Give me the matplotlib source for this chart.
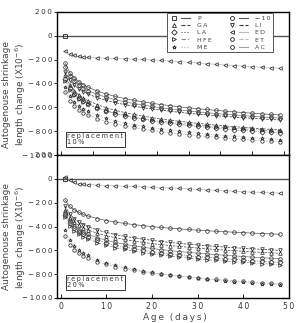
import matplotlib
matplotlib.use('Agg')
import matplotlib.pyplot as plt
from matplotlib.lines import Line2D
from matplotlib.legend_handler import HandlerTuple

plt.rcParams['font.family'] = ['DejaVu Sans']

# measuring days
days = [1, 2, 3, 4, 5, 6, 8, 10, 12, 14, 16, 18, 20, 22, 24, 26, 28, 30,
        32, 34, 36, 38, 40, 42, 44, 46, 48]

# plain concrete (reference line)
p_day = [1]
p_val = [0]

# 10% replacement
t_ed = [-130, -150, -165, -172, -177, -180, -184, -187, -190, -192, -195, -198, -202, -206,
        -211, -216, -221, -227, -233, -239, -244, -249, -254, -259, -263, -268, -272]
t_10 = [-230, -308, -353, -385, -411, -431, -463, -488, -509, -526, -541, -554, -566, -577,
        -586, -595, -604, -612, -618, -625, -632, -638, -644, -649, -655, -659, -664]
t_ac = [-260, -337, -382, -414, -439, -459, -491, -516, -536, -553, -568, -581, -593, -604,
        -613, -622, -630, -638, -645, -652, -658, -664, -670, -675, -681, -685, -690]
t_li = [-300, -373, -415, -445, -469, -488, -518, -542, -561, -577, -591, -603, -614, -624,
        -633, -642, -650, -657, -663, -670, -676, -682, -687, -692, -697, -702, -706]
t_ga = [-330, -412, -461, -495, -521, -543, -577, -604, -625, -644, -659, -674, -686, -698,
        -708, -717, -726, -734, -742, -749, -756, -762, -768, -774, -780, -785, -790]
t_la = [-360, -441, -489, -523, -549, -571, -604, -631, -652, -670, -686, -700, -712, -724,
        -734, -743, -752, -760, -767, -775, -781, -788, -794, -800, -805, -810, -815]
t_hfe = [-380, -455, -499, -530, -555, -575, -606, -630, -650, -666, -681, -694, -705, -716,
         -725, -734, -742, -749, -756, -763, -769, -775, -780, -786, -791, -795, -800]
t_me = [-430, -509, -555, -588, -613, -634, -666, -692, -713, -730, -745, -759, -771, -782,
        -791, -801, -809, -817, -824, -831, -837, -844, -849, -855, -860, -865, -870]
t_et = [-470, -545, -589, -620, -644, -664, -695, -719, -738, -755, -769, -782, -794, -804,
        -813, -822, -830, -837, -844, -851, -857, -863, -868, -874, -879, -883, -888]

# 20% replacement
b_ed = [15, -10, -30, -40, -45, -48, -52, -56, -59, -62, -64, -67, -70, -73,
        -77, -80, -84, -88, -92, -96, -100, -104, -108, -111, -114, -117, -120]
b_10 = [-180, -231, -261, -282, -299, -312, -333, -350, -363, -374, -384, -393, -401, -408,
        -414, -420, -425, -431, -435, -440, -444, -448, -452, -455, -459, -462, -465]
b_li = [-230, -296, -335, -363, -384, -401, -429, -450, -468, -482, -495, -506, -516, -526,
        -534, -542, -549, -555, -561, -567, -573, -578, -583, -587, -592, -596, -600]
b_ga = [-260, -325, -364, -391, -412, -429, -456, -477, -494, -509, -521, -533, -543, -552,
        -560, -567, -574, -581, -587, -593, -598, -603, -608, -613, -617, -621, -625]
b_ac = [-290, -358, -398, -426, -448, -466, -494, -516, -534, -549, -562, -574, -584, -594,
        -602, -610, -617, -624, -630, -636, -642, -647, -652, -657, -662, -666, -670]
b_la = [-300, -372, -414, -443, -466, -485, -515, -538, -557, -573, -586, -599, -610, -620,
        -628, -637, -644, -652, -658, -664, -670, -676, -681, -686, -691, -696, -700]
b_hfe = [-320, -392, -434, -463, -486, -505, -535, -558, -577, -593, -606, -619, -630, -640,
         -648, -657, -664, -672, -678, -684, -690, -696, -701, -706, -711, -716, -720]
b_me = [-430, -512, -561, -595, -621, -643, -677, -704, -725, -744, -759, -774, -786, -798,
        -808, -817, -826, -834, -842, -849, -856, -862, -868, -874, -880, -885, -890]
b_et = [-480, -552, -594, -623, -646, -665, -695, -718, -737, -753, -766, -779, -790, -800,
        -808, -817, -824, -832, -838, -844, -850, -856, -861, -866, -871, -876, -880]

labels = ['P', 'GA', 'LA', 'HFE', 'ME', '−10', 'LI', 'ED', 'ET', 'AC']
yticks = [-1000, -800, -600, -400, -200, 0, 200]
ytick_labels = ['−1000', '−800', '−600', '−400', '−200', '0', '200']
xticks_top = [0, 7, 14, 21, 28, 35, 42, 49]
xticks_bot = [0, 10, 20, 30, 40, 50]
xtick_labels = ['0', '10', '20', '30', '40', '50']

# marker, linestyle, line colour
style = {
    'P':   ('s', '-', '#555555'),
    'GA':  ('^', '--', '#444444'),
    'LA':  ('D', ':', '#555555'),
    'HFE': ('>', (0, (4, 2, 1, 2)), '#888888'),
    'ME':  ('*', ':', '#aaaaaa'),
    '−10': ('o', '-', '#555555'),
    'LI':  ('v', '--', '#333333'),
    'ED':  ('<', '-', '#bbbbbb'),
    'ET':  ('8', '--', '#bbbbbb'),
    'AC':  ('o', '-', '#f08080'),
}

top = {'GA': t_ga, 'LA': t_la, 'HFE': t_hfe, 'ME': t_me, '−10': t_10,
       'LI': t_li, 'ED': t_ed, 'ET': t_et, 'AC': t_ac}
bot = {'GA': b_ga, 'LA': b_la, 'HFE': b_hfe, 'ME': b_me, '−10': b_10,
       'LI': b_li, 'ED': b_ed, 'ET': b_et, 'AC': b_ac}


def spaced(s):
    return '\u2009'.join(s)


fig = plt.figure(figsize=(2.96, 3.23), dpi=100)
ax1 = fig.add_axes([57/296, 1-155/323, 232/296, 143/323])
ax2 = fig.add_axes([57/296, 1-298/323, 232/296, 143/323])

for ax, data, txt in [(ax1, top, '10%'), (ax2, bot, '20%')]:
    ax.axhline(p_val[0], color='#555555', lw=1.0, zorder=1)
    ax.plot(p_day, p_val, ls='none', marker='s', ms=2.8, mfc='none', mec='#222222', mew=0.6)
    for lab, vals in data.items():
        m, ls, c = style[lab]
        lc = '#777777' if lab == 'AC' else c
        ax.plot(days, vals, ls=ls, color=lc, lw=0.5, marker=m, ms=2.6,
                mfc='none', mec='#222222', mew=0.5)
    ax.set_xlim(-0.8, 50)
    ax.set_ylim(-1000, 200)
    ax.set_yticks(yticks)
    ax.set_yticklabels([spaced(t) for t in ytick_labels])
    ax.tick_params(axis='y', direction='out', length=2, width=0.6, labelsize=5.2,
                   labelcolor='#333333', pad=1.5)
    ax.tick_params(axis='x', direction='in', length=3, width=0.6, labelsize=5.5,
                   labelcolor='#333333', pad=3)
    for sp in ax.spines.values():
        sp.set_linewidth(1.0)
    ax.text(0.045, 0.07, spaced('replacement') + '\n' + spaced(txt), transform=ax.transAxes,
            ha='left', va='bottom', fontsize=4.8, color='#333333', linespacing=0.95,
            bbox=dict(boxstyle='square,pad=0.25', fc='white', ec='#333333', lw=0.7))

ax1.set_xticks(xticks_top)
ax1.set_xticklabels([])
ax2.set_xticks(xticks_bot)
ax2.set_xticklabels([spaced(t) for t in xtick_labels])

# legend: marker then line sample, box fixed between x=167 and x=273 px
handles = []
for lab in labels:
    m, ls, c = style[lab]
    handles.append((Line2D([], [], ls='none', marker=m, ms=2.8, mfc='none', mec='#222222', mew=0.6),
                    Line2D([], [], ls=ls, color=c, lw=0.8)))
leg = ax1.legend(handles, [spaced(l) for l in labels], ncol=2, fontsize=4.5,
                 handler_map={tuple: HandlerTuple(ndivide=None, pad=0.5)},
                 handlelength=3.2, labelspacing=0.3, columnspacing=0.9, handletextpad=1.2,
                 loc='upper left', bbox_to_anchor=(110/232, 0.0, 106/232, 0.993),
                 mode='expand', borderaxespad=0,
                 fancybox=False, edgecolor='#555555', framealpha=1, borderpad=0.4)
leg.get_frame().set_linewidth(0.7)
for t in leg.get_texts():
    t.set_color('#444444')

# y labels for both panels
for yc in [94, 237]:
    fig.text(7/296, 1-yc/323, 'Autogenouse shrinkage', rotation=90, ha='center', va='center',
             fontsize=6.5, color='#444444')
    fig.text(21/296, 1-yc/323, 'length change (X10$^{-6}$)', rotation=90, ha='center',
             va='center', fontsize=6.5, color='#444444')

fig.text(175/296, 1-317/323, spaced('Age') + '  ' + spaced('(days)'), ha='center', va='center',
         fontsize=6.5, color='#444444')

plt.savefig('out.png', dpi=100)
